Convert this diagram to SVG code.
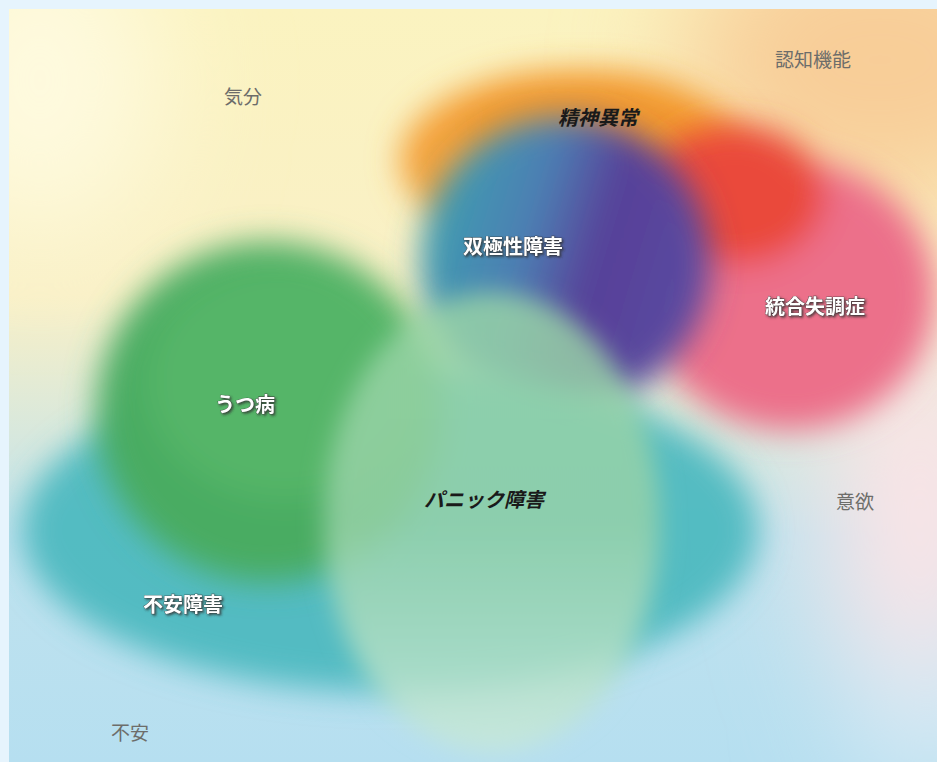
<svg xmlns="http://www.w3.org/2000/svg" width="937" height="762" viewBox="0 0 937 762">
<defs>
<style>
.lab{font-family:"Noto Sans CJK JP","Noto Sans CJK SC",sans-serif;font-size:19px;fill:#6d6d6a;}
.wl{font-family:"Noto Sans CJK JP","Noto Sans CJK SC",sans-serif;font-size:20px;font-weight:bold;fill:#ffffff;stroke:#3a3a3a;stroke-width:0.6;paint-order:stroke;}
.bl{font-family:"Noto Sans CJK JP","Noto Sans CJK SC",sans-serif;font-size:20px;font-weight:bold;font-style:italic;fill:#1a1a1a;}
</style>
<filter id="bgblur" x="-50%" y="-50%" width="200%" height="200%"><feGaussianBlur stdDeviation="60"/></filter>
<filter id="blur" x="-30%" y="-30%" width="160%" height="160%"><feGaussianBlur stdDeviation="16"/></filter>
<filter id="sblur" x="-30%" y="-30%" width="160%" height="160%"><feGaussianBlur stdDeviation="12"/></filter>
<filter id="sh" x="-10%" y="-30%" width="120%" height="160%"><feDropShadow dx="1.5" dy="1.5" stdDeviation="1" flood-color="#333" flood-opacity="0.8"/></filter>
<linearGradient id="bg" x1="0" y1="0" x2="0" y2="1">
<stop offset="0" stop-color="#fbf3c0"/>
<stop offset="0.38" stop-color="#f9f0c6"/>
<stop offset="0.7" stop-color="#bfe2ee"/>
<stop offset="1" stop-color="#b6dff0"/>
</linearGradient>
<linearGradient id="bip" x1="0" y1="0" x2="1" y2="0.3">
<stop offset="0.15" stop-color="#3e9bb0"/>
<stop offset="0.45" stop-color="#4d7fb3"/>
<stop offset="0.7" stop-color="#573f98"/>
<stop offset="1" stop-color="#5a4aa0"/>
</linearGradient>
<linearGradient id="pan" x1="0" y1="0" x2="0" y2="1">
<stop offset="0" stop-color="#9ad5a6"/>
<stop offset="0.5" stop-color="#98d2a8"/>
<stop offset="1" stop-color="#c9e9d9"/>
</linearGradient>
<clipPath id="frame"><rect x="9" y="9" width="928" height="753"/></clipPath>
</defs>
<rect width="937" height="762" fill="#e6f4fd"/>
<g clip-path="url(#frame)">
<rect x="9" y="9" width="928" height="753" fill="url(#bg)"/>
<g filter="url(#bgblur)">
<ellipse cx="40" cy="80" rx="120" ry="160" fill="#fefadf"/>
<ellipse cx="880" cy="60" rx="200" ry="150" fill="#f8cd98"/>
<ellipse cx="920" cy="520" rx="90" ry="200" fill="#fde4e6"/>
<ellipse cx="930" cy="720" rx="60" ry="80" fill="#dcecf6"/>
</g>
<g id="seishin" filter="url(#blur)">
<ellipse cx="575" cy="160" rx="175" ry="90" fill="#f4a23a"/>
<ellipse cx="590" cy="130" rx="130" ry="60" fill="#f39a2e"/>
</g>
<g id="tougou" filter="url(#blur)">
<ellipse cx="790" cy="295" rx="145" ry="135" fill="#ec6f8a"/>
<ellipse cx="735" cy="195" rx="90" ry="70" fill="#ea4a3a"/>
</g>
<g id="souki" filter="url(#blur)">
<circle cx="565" cy="262" r="145" fill="url(#bip)"/>
</g>
<g id="anxiety" filter="url(#blur)">
<ellipse cx="390" cy="530" rx="368" ry="162" fill="#4bb9bf" opacity="0.92"/>
</g>
<g id="utsu" filter="url(#blur)">
<ellipse cx="268" cy="412" rx="172" ry="170" fill="#48ac62"/>
<ellipse cx="285" cy="380" rx="140" ry="120" fill="#55b567"/>
</g>
<g id="panic" filter="url(#sblur)">
<ellipse cx="492" cy="522" rx="168" ry="230" fill="url(#pan)" opacity="0.82"/>
</g>
</g>
<g id="labels">
<text class="lab" x="243" y="104" text-anchor="middle">気分</text>
<text class="lab" x="813" y="67" text-anchor="middle">認知機能</text>
<text class="lab" x="855" y="509" text-anchor="middle">意欲</text>
<text class="lab" x="130" y="740" text-anchor="middle">不安</text>
<text class="bl" x="598" y="125" text-anchor="middle">精神異常</text>
<text class="wl" x="513" y="254" text-anchor="middle" filter="url(#sh)">双極性障害</text>
<text class="wl" x="815" y="314" text-anchor="middle" filter="url(#sh)">統合失調症</text>
<text class="wl" x="245" y="412" text-anchor="middle" filter="url(#sh)">うつ病</text>
<text class="bl" x="484" y="507" text-anchor="middle">パニック障害</text>
<text class="wl" x="183" y="612" text-anchor="middle" filter="url(#sh)">不安障害</text>
</g>
</svg>
